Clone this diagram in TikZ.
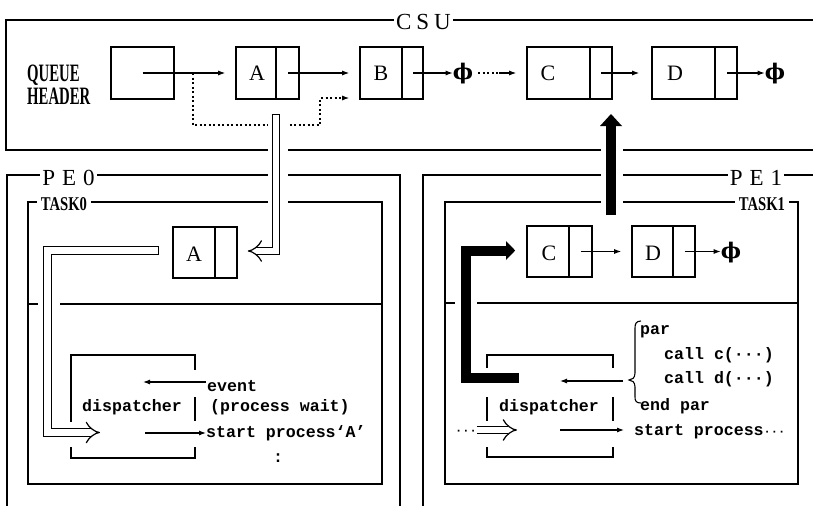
\documentclass[tikz,border=0pt]{standalone}
\usepackage{fontspec}
\usepackage{graphicx}
\setmainfont{Liberation Serif}
\setmonofont{Liberation Mono}
\newfontfamily\phifont{DejaVu Serif}
\usetikzlibrary{arrows.meta,calc}
\begin{document}
\begin{tikzpicture}[x=1pt,y=-1pt,
  frame/.style={line width=1.7pt, line join=miter},
  lb/.style={draw, line width=1.6pt, inner sep=0pt, minimum height=52pt},
  dv/.style={line width=1.6pt},
  thn/.style={line width=1.1pt},
  arr/.style={line width=1.1pt, -{Latex[length=7pt,width=5pt]}},
  dotl/.style={line width=1.2pt, dash pattern=on 2pt off 2.5pt},
  wa/.style={double, double distance=6.5pt, line width=1.2pt, -{Implies}},
  blk/.style={line width=10pt},
  ttl/.style={fill=white, inner xsep=2pt, inner ysep=0pt, font=\fontsize{23}{23}\selectfont},
  cond/.style={fill=white, inner xsep=4pt, inner ysep=0pt, font=\fontsize{19.5}{19.5}\selectfont\bfseries},
  letter/.style={font=\fontsize{22}{22}\selectfont, inner sep=0pt},
  mono/.style={font=\fontsize{16.6}{18}\selectfont\ttfamily\bfseries, inner sep=0pt, anchor=base west},
  phi/.style={inner sep=0pt, font=\fontsize{21.5}{21.5}\selectfont\phifont\bfseries},
]
\useasboundingbox (0,0) rectangle (813,506);
% frames
\draw[frame] (813,20) -- (6,20) -- (6,150) -- (813,150);
\draw[frame] (7,506) -- (7,175) -- (400,175) -- (400,506);
\draw[frame] (28,202) rectangle (382,484);
\draw[frame] (28,304) -- (382,304);
\draw[frame] (423,506) -- (423,175) -- (813,175);
\draw[frame] (445,202) rectangle (798,484);
\draw[frame] (445,303) -- (798,303);

% titles
\node[ttl] (csu) at (423.5,21.5) {C\hspace{5pt}S\hspace{5pt}U};
\node[ttl] (pe0) at (68.5,177.5) {P\hspace{7pt}E\hspace{7pt}0};
\node[ttl] (pe1) at (756,177.5) {P\hspace{7pt}E\hspace{7pt}1};
\node[cond] (t0) at (64,204) {\scalebox{0.75}[1]{TASK0}};
\node[cond] (t1) at (762,204) {\scalebox{0.75}[1]{TASK1}};
\node[anchor=west, inner sep=0pt, align=left, font=\fontsize{25}{23}\selectfont\bfseries] (qh) at (27,85)
  {\scalebox{0.59}[1]{QUEUE}\\\scalebox{0.59}[1]{HEADER}};

% CSU list
\node[lb, minimum width=63pt] (H) at (142.5,73) {};
\node[lb, minimum width=63pt] (A) at (267.5,73) {};
\node[lb, minimum width=63pt] (B) at (391.5,73) {};
\node[lb, minimum width=85pt] (C) at (569.5,73) {};
\node[lb, minimum width=85pt] (D) at (694.5,73) {};
\draw[dv] ($(A.north west)+(41,0)$) -- ($(A.south west)+(41,0)$);
\draw[dv] ($(B.north west)+(43,0)$) -- ($(B.south west)+(43,0)$);
\draw[dv] ($(C.north west)+(64,0)$) -- ($(C.south west)+(64,0)$);
\draw[dv] ($(D.north west)+(64,0)$) -- ($(D.south west)+(64,0)$);
\node[letter] (lA) at (257,73) {A};
\node[letter] (lB) at (381,73) {B};
\node[letter] (lC) at (548,73) {C};
\node[letter] (lD) at (675,73) {D};
\node[phi] (phi1) at (463,74) {ϕ};
\node[phi] (phi2) at (775,74) {ϕ};

\coordinate (Ap) at (288,73);
\coordinate (Bp) at (413,73);
\coordinate (Cp) at (601,73);
\coordinate (Dp) at (727,73);
\coordinate (hd) at (193,73);
\draw[dotl, -{Latex[length=7pt,width=5pt]}] (hd) -- (193,125) -- (320,125) -- (320,98) -- ($(B.west)+(-10,25)$);
\draw[arr] (H.center) -- ($(A.west)+(-10,0)$);
\draw[arr] (Ap) -- ($(B.west)+(-10,0)$);
\draw[arr] (Bp) -- (phi1.west |- Bp);
\draw[dotl] ($(phi1.east |- Bp)+(5,0)$) -- (499,73);
\draw[arr] (499,73) -- ($(C.west)+(-10,0)$);
\draw[arr] (Cp) -- ($(D.west)+(-12,0)$);
\draw[arr] (Dp) -- (phi2.west |- Dp);

% gaps for crossing arrows
\fill[white] (268,118) rectangle (288,210);
\fill[white] (601,140) rectangle (623,210);
\fill[white] (38,299) rectangle (60,309);
\fill[white] (455,298) rectangle (477,308);

% TASK0 list
\node[lb, minimum width=64pt, minimum height=51pt] (A2) at (205,252.5) {};
\draw[dv] ($(A2.north west)+(43,0)$) -- ($(A2.south west)+(43,0)$);
\node[letter] (lA2) at (194,254) {A};

% TASK1 list
\node[lb, minimum width=65pt, minimum height=51pt] (C2) at (559.5,251.5) {};
\node[lb, minimum width=63pt, minimum height=51pt] (D2) at (663.5,251.5) {};
\draw[dv] ($(C2.north west)+(43,0)$) -- ($(C2.south west)+(43,0)$);
\draw[dv] ($(D2.north west)+(42,0)$) -- ($(D2.south west)+(42,0)$);
\node[letter] (lC2) at (549,253) {C};
\node[letter] (lD2) at (653,253) {D};
\node[phi] (phi3) at (731,252.5) {ϕ};
\coordinate (C2p) at (581,251.5);
\coordinate (D2p) at (685,251.5);
\draw[arr] (C2p) -- ($(D2.west)+(-10,0)$);
\draw[arr] (D2p) -- (phi3.west |- D2p);

% white arrows
\coordinate (w1) at (276,114);
\draw[wa] (w1) -- (276,251) -- ($(A2.east)+(10,-1.5)$);
\draw[line width=1.2pt] ($(w1)+(-4.45,0.6)$) -- ($(w1)+(4.45,0.6)$);
\coordinate (w2) at ($(A2.west)+(-13,-2)$);
\draw[wa] (w2) -- (47.5,250.5) -- (47.5,432.5) -- (100,432.5);
\draw[line width=1.2pt] ($(w2)+(-0.6,-4.45)$) -- ($(w2)+(-0.6,4.45)$);

% black arrows
\coordinate (bu0) at (611,215);
\coordinate (bu1) at (611,125);
\draw[blk] (bu0) -- (bu1);
\fill (600,126) -- (622,126) -- (611,114) -- cycle;
\coordinate (bl0) at (519,378);
\draw[blk, line join=miter] (bl0) -- (466,378) -- (466,250.5) -- (507,250.5);
\fill (506,241) -- (506,260) -- ($(C2.west)+(-11,-1)$) -- cycle;

% PE0 dispatcher
\draw[thn] (71,422) -- (71,355) -- (195,355) -- (195,370);
\draw[thn] (195,397) -- (195,421);
\draw[thn] (71,447) -- (71,458) -- (195,458) -- (195,447);
\node[mono] (dp0) at (82,411) {dispatcher};
\node[mono] (ev) at (207,391) {event};
\node[mono] (pw) at (210,411) {(process wait)};
\node[mono] (sp0) at (206,437) {start process‘A’};
\node[mono] (col) at (273,462) {:};
\draw[arr] ($(ev.base west)+(-1,-9)$) -- (143,382);
\draw[arr] (145,433) -- ($(sp0.base west)+(0,-4)$);

% PE1 dispatcher
\draw[thn] (487,368) -- (487,355) -- (613,355) -- (613,368);
\draw[thn] (487,397) -- (487,421);
\draw[thn] (613,397) -- (613,421);
\draw[thn] (487,447) -- (487,457) -- (613,457) -- (613,447);
\node[mono] (dp1) at (499,411) {dispatcher};
\node[mono] (par) at (640,334) {par};
\node[mono] (cc) at (664,359) {call c(···)};
\node[mono] (cd) at (664,383) {call d(···)};
\node[mono] (ep) at (640,410) {end par};
\node[mono] (sp1) at (634,435) {start process{\fontsize{12}{12}\selectfont···}};
\node[mono, font=\fontsize{12}{12}\selectfont\ttfamily\bfseries] (dts) at (455,434) {···};
\draw[thn] (641,321) .. controls (636,321) and (635,324) .. (635,328) -- (635,373)
  .. controls (635,378) and (632,380) .. (629,380)
  .. controls (632,380) and (635,382) .. (635,387) -- (635,397)
  .. controls (635,401) and (636,403) .. (641,403);
\draw[arr] (623,381) -- (560,381);
\draw[arr] (560,430) -- ($(sp1.base west)+(-10,-5)$);
\draw[wa] (dts.east |- 0,430) -- (517,430);
\end{tikzpicture}
\end{document}
